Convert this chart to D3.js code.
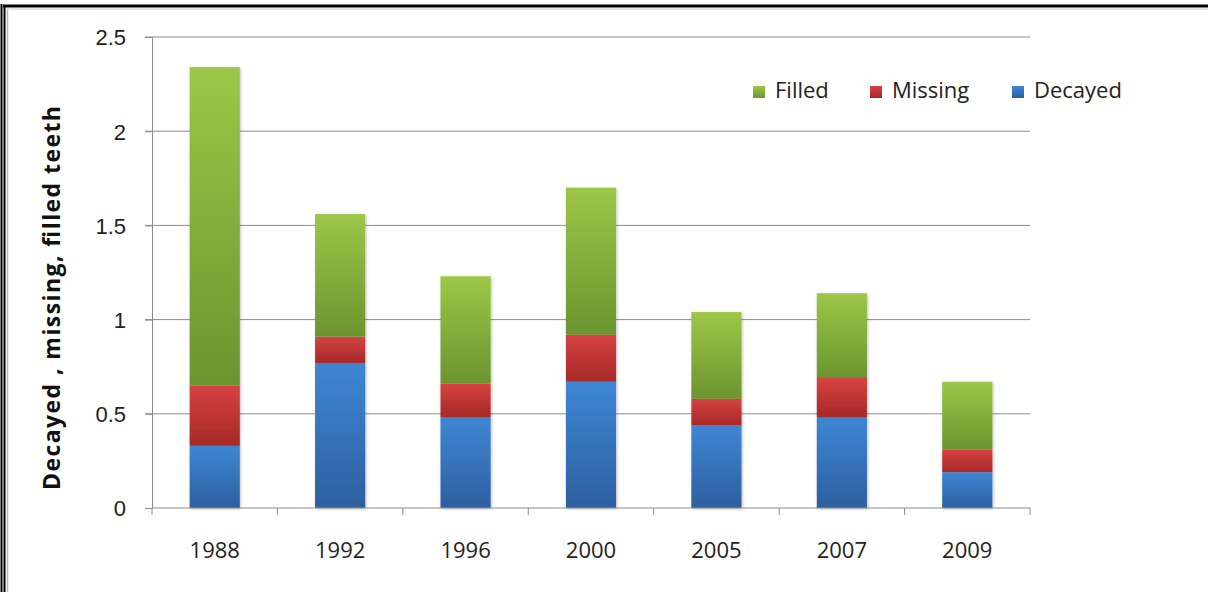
<!DOCTYPE html>
<html>
<head>
	<meta charset="utf-8">
	<title>Decayed, missing, filled teeth</title>
	<style>
		body { margin: 0; background: #fff; }
		svg { display: block; font-family: 'Open Sans', sans-serif; }
		.tick text { fill: #222; }
	</style>
</head>
<body>
	<svg width="1208" height="592"></svg>
<script src="https://d3js.org/d3.v7.min.js"></script>
<script>

	// data
	const years = ['1988', '1992', '1996', '2000', '2005', '2007', '2009']
	const decayed = [0.33, 0.77, 0.48, 0.67, 0.44, 0.48, 0.19]
	const missing = [0.32, 0.14, 0.18, 0.25, 0.14, 0.21, 0.12]
	const filled = [1.69, 0.65, 0.57, 0.78, 0.46, 0.45, 0.36]
	const yTicks = [0, 0.5, 1, 1.5, 2, 2.5]

	const seriesNames = ['Decayed', 'Missing', 'Filled']
	const colors = {
		Decayed: ['#3e86d4', '#2d5f9f'],
		Missing: ['#d64242', '#a62828'],
		Filled: ['#9cc748', '#6b942f']
	}

	const plotLeft = 152, plotRight = 1030, plotTop = 37, plotBottom = 508

	let svg = d3.select('svg')

	svg.append('rect').attr('width', 1208).attr('height', 592).attr('fill', '#fff')

	// frame (left + top edges only)
	svg.append('line').attr('x1', 1.5).attr('x2', 1.5).attr('y1', 4).attr('y2', 592)
		.attr('stroke', '#000').attr('stroke-width', 2)
	svg.append('line').attr('x1', 4.5).attr('x2', 4.5).attr('y1', 5).attr('y2', 592)
		.attr('stroke', '#000').attr('stroke-width', 2)
	svg.append('line').attr('x1', 3).attr('x2', 1208).attr('y1', 6).attr('y2', 6)
		.attr('stroke', '#000').attr('stroke-width', 3)
	svg.append('line').attr('x1', 7.5).attr('x2', 7.5).attr('y1', 8).attr('y2', 592)
		.attr('stroke', '#bbb').attr('stroke-width', 1.5)
	svg.append('line').attr('x1', 7).attr('x2', 1208).attr('y1', 9).attr('y2', 9)
		.attr('stroke', '#ddd').attr('stroke-width', 1.5)

	let defs = svg.append('defs')
	seriesNames.forEach(function(s) {
		let g = defs.append('linearGradient').attr('id', 'grad-' + s)
			.attr('x1', 0).attr('y1', 0).attr('x2', 0).attr('y2', 1)
		g.append('stop').attr('offset', '0%').attr('stop-color', colors[s][0])
		g.append('stop').attr('offset', '100%').attr('stop-color', colors[s][1])
	})
	let shadow = defs.append('filter').attr('id', 'shadow')
		.attr('x', '-20%').attr('y', '-5%').attr('width', '140%').attr('height', '115%')
	shadow.append('feDropShadow').attr('dx', 1).attr('dy', 1).attr('stdDeviation', 1.5)
		.attr('flood-color', '#000').attr('flood-opacity', 0.25)

	let x = d3.scaleBand()
		.domain(years)
		.range([plotLeft, plotRight])
		.paddingInner(0.6)
		.paddingOuter(0.3)

	let y = d3.scaleLinear()
		.domain([0, 2.5])
		.range([plotBottom, plotTop])

	// gridlines
	svg.append('g')
		.selectAll('line')
		.data(yTicks.filter(d => d > 0))
		.join('line')
		.attr('x1', plotLeft - 7).attr('x2', plotRight)
		.attr('y1', d => y(d)).attr('y2', d => y(d))
		.attr('stroke', '#8c8c8c').attr('stroke-width', 1)

	// y axis
	let yAxis = svg.append('g')
		.attr('transform', `translate(${plotLeft},0)`)
		.call(d3.axisLeft(y).tickValues(yTicks).tickSize(7).tickPadding(19).tickFormat(d3.format('')))
	yAxis.select('.domain').attr('stroke', '#8c8c8c')
	yAxis.selectAll('.tick line').attr('stroke', '#8c8c8c')
	yAxis.selectAll('.tick text').style('font-size', '22px').attr('dy', '0.36em')

	// stacked bars
	let rows = years.map((yr, i) => ({year: yr, Decayed: decayed[i], Missing: missing[i], Filled: filled[i]}))
	let stack = d3.stack().keys(seriesNames)(rows)

	let barsG = svg.append('g').attr('filter', 'url(#shadow)')
	barsG.selectAll('g')
		.data(stack)
		.join('g')
		.attr('fill', d => `url(#grad-${d.key})`)
		.selectAll('rect')
		.data(d => d)
		.join('rect')
		.attr('x', d => x(d.data.year))
		.attr('width', x.bandwidth())
		.attr('y', d => y(d[1]))
		.attr('height', d => y(d[0]) - y(d[1]))

	// x axis
	svg.append('line')
		.attr('x1', plotLeft).attr('x2', plotRight)
		.attr('y1', plotBottom).attr('y2', plotBottom)
		.attr('stroke', '#8c8c8c')
	let boundaries = years.map(d => x(d) - x.step() * 0.3).concat([plotRight])
	svg.append('g')
		.selectAll('line')
		.data(boundaries)
		.join('line')
		.attr('x1', d => d).attr('x2', d => d)
		.attr('y1', plotBottom).attr('y2', plotBottom + 7)
		.attr('stroke', '#8c8c8c')

	svg.append('g')
		.selectAll('text')
		.data(years)
		.join('text')
		.attr('x', d => x(d) + x.bandwidth() / 2)
		.attr('y', 558)
		.attr('text-anchor', 'middle')
		.style('font-size', '22px')
		.attr('fill', '#222')
		.text(d => d)

	// y title
	svg.append('text')
		.attr('transform', 'translate(60,298) rotate(-90)')
		.attr('text-anchor', 'middle')
		.style('font-size', '23px')
		.style('font-weight', 700)
		.attr('fill', '#111')
		.attr('textLength', 384)
		.attr('lengthAdjust', 'spacing')
		.text('Decayed , missing, filled teeth')

	// legend
	const legendX = [753, 870, 1012]
	let legendOrder = ['Filled', 'Missing', 'Decayed']
	let leg = svg.append('g')
		.selectAll('g')
		.data(legendOrder)
		.join('g')
		.attr('transform', (d, i) => `translate(${legendX[i]},0)`)
	leg.append('rect')
		.attr('y', 86).attr('width', 12).attr('height', 12)
		.attr('fill', d => `url(#grad-${d})`)
	leg.append('text')
		.attr('x', 22).attr('y', 98)
		.style('font-size', '22px')
		.attr('fill', '#222')
		.text(d => d)

</script>
</body>
</html>
